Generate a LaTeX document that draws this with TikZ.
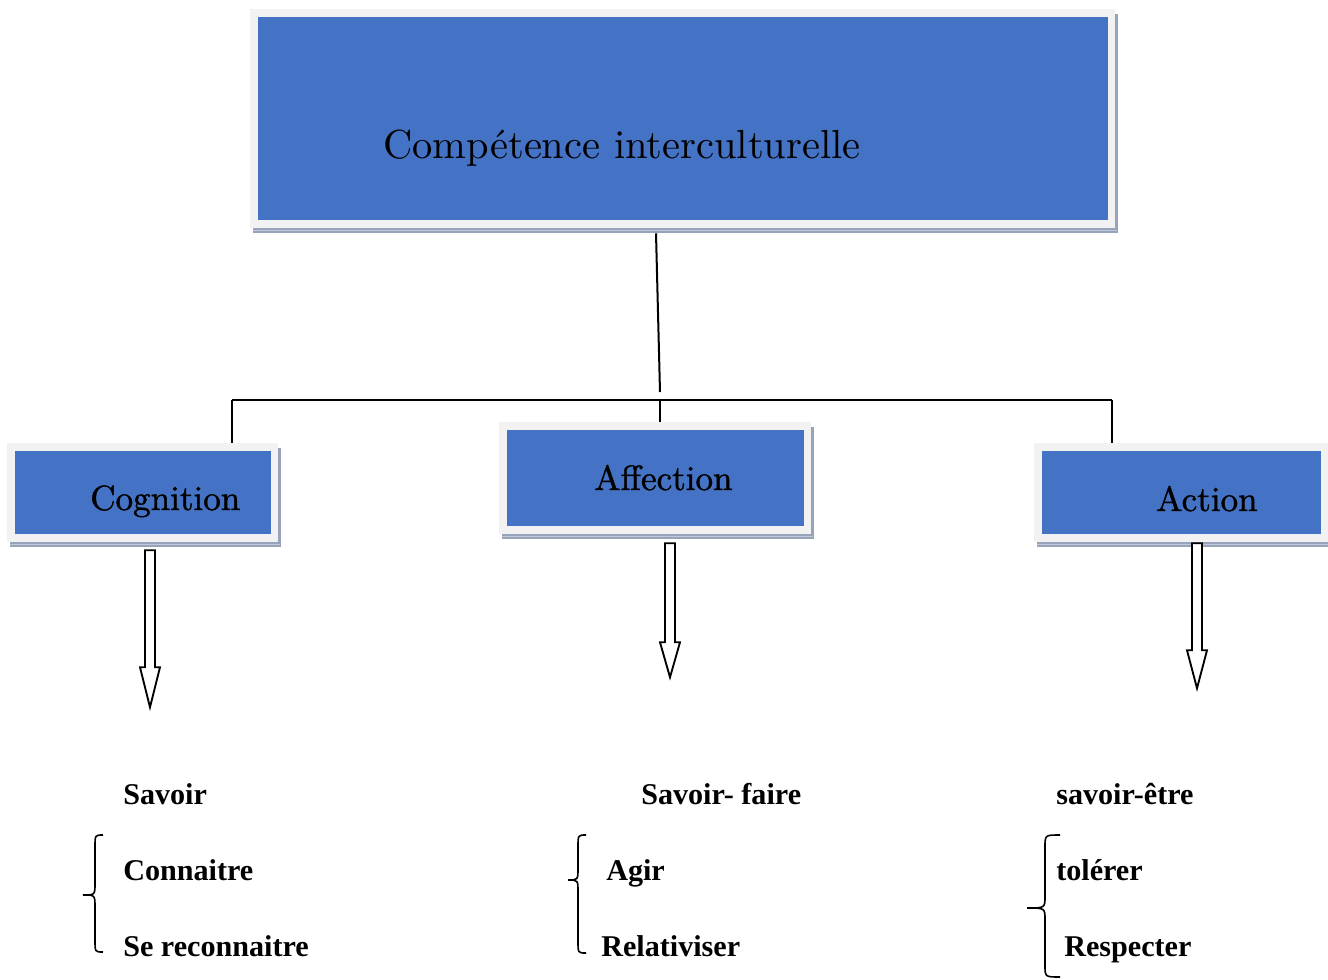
\documentclass[tikz,border=0pt]{standalone}
\usepackage{fontspec}
\newfontfamily\lmten{lmroman10-regular.otf}
\newfontfamily\lmtenbold{lmroman10-regular.otf}[FakeBold=1.2]
\newfontfamily\timesfont{Liberation Serif}
\usetikzlibrary{calc,backgrounds}
\definecolor{boxblue}{HTML}{4472C4}
\definecolor{framegray}{HTML}{F2F2F2}
\definecolor{shadowc}{HTML}{97A3BA}
\newcommand\myboxframe[1]{%
  \fill[shadowc] ($(#1.north west)+(-5,-3)$) rectangle ($(#1.south east)+(10,13)$);
  \fill[framegray] ($(#1.north west)+(-8,-8)$) rectangle ($(#1.south east)+(7,8)$);
  \draw[shadowc!60,line width=0.6pt] ($(#1.south west)+(-5,10)$) -- ($(#1.south east)+(9,10)$);}
\newcommand\mybrace[6]{% xe xv xt y1 ym y2
  \draw[bracestyle] (#1,#4) .. controls (#2,#4) .. (#2,#4+12) -- (#2,#5-12)
    .. controls (#2,#5) .. (#3,#5) .. controls (#2,#5) .. (#2,#5+12)
    -- (#2,#6-12) .. controls (#2,#6) .. (#1,#6);}
\begin{document}
\begin{tikzpicture}[x=0.75pt,y=-0.75pt,
  box/.style={fill=boxblue, inner sep=0pt},
  boxlabel/.style={inner sep=0pt, anchor=base west, font=\lmtenbold\fontsize{26.3}{30}\selectfont},
  titlelabel/.style={inner sep=0pt, anchor=base west, font=\lmten\fontsize{30.4}{34}\selectfont},
  item/.style={inner sep=0pt, anchor=base west, font=\timesfont\bfseries\fontsize{22.6}{26}\selectfont},
  conn/.style={line width=1.5pt},
  barrow/.style={line width=1.4pt, fill=white, line join=miter},
  bracestyle/.style={line width=1.2pt}]
\useasboundingbox (0,0) rectangle (1328,979);

% boxes
\node[box, minimum width=637.5pt, minimum height=152.25pt] (top) at (683,118.5) {};
\node[box, minimum width=192pt, minimum height=62.25pt] (cog) at (143,492.5) {};
\node[box, minimum width=222.75pt, minimum height=72pt] (aff) at (655.5,478) {};
\node[box, minimum width=209.25pt, minimum height=62.25pt] (act) at (1181.5,492.5) {};
\begin{scope}[on background layer]
  \myboxframe{top}\myboxframe{cog}\myboxframe{aff}\myboxframe{act}
\end{scope}

% box labels
\node[titlelabel] (toplbl) at (383,158) {Compétence interculturelle};
\node[boxlabel] (coglbl) at (90,510) {Cognition};
\node[boxlabel] (afflbl) at (594,490) {Affection};
\node[boxlabel] (actlbl) at (1156,511) {Action};

% tree connectors
\coordinate (j) at (660,392);
\coordinate (hl) at (232,400);
\coordinate (hm) at (660,400);
\coordinate (hr) at (1112,400);
\draw[conn] ($(top.south)+(-27,13)$) -- (j);
\draw[conn] (hl) -- (hr);
\draw[conn] (hl) -- ($(cog.north -| hl)+(0,-8)$);
\draw[conn] (hm) -- ($(aff.north -| hm)+(0,-8)$);
\draw[conn] (hr) -- ($(act.north -| hr)+(0,-8)$);

% block arrows
\coordinate (a1) at ($(cog.south -| 150,0)+(0,16)$);
\coordinate (a2) at ($(aff.south -| 670,0)+(0,17)$);
\coordinate (a3) at ($(act.south -| 1197,0)+(0,9)$);
\draw[barrow] (a1) ++(-5,0) -- ++(10,0) -- ++(0,117) -- ++(5,0) -- ++(-10,40) -- ++(-10,-40) -- ++(5,0) -- cycle;
\draw[barrow] (a2) ++(-5,0) -- ++(10,0) -- ++(0,99) -- ++(5,0) -- ++(-10,35) -- ++(-10,-35) -- ++(5,0) -- cycle;
\draw[barrow] (a3) ++(-5,0) -- ++(10,0) -- ++(0,107) -- ++(5,0) -- ++(-10,38) -- ++(-10,-38) -- ++(5,0) -- cycle;

% items
\node[item] (savoir) at (123,804) {Savoir};
\node[item] (connaitre) at (123,880) {Connaitre};
\node[item] (sereco) at (123,956) {Se reconnaitre};
\node[item] (sfaire) at (641,804) {Savoir- faire};
\node[item] (agir) at (606,880) {Agir};
\node[item] (relat) at (601,956) {Relativiser};
\node[item] (setre) at (1056,804) {savoir-être};
\node[item] (tolerer) at (1056,880) {tolérer};
\node[item] (respecter) at (1064,956) {Respecter};

% braces
\mybrace{103}{95}{83}{835}{895}{952}
\mybrace{586}{578}{568}{835}{880}{953}
\mybrace{1060}{1045}{1027}{835}{908}{977}
\end{tikzpicture}
\end{document}
